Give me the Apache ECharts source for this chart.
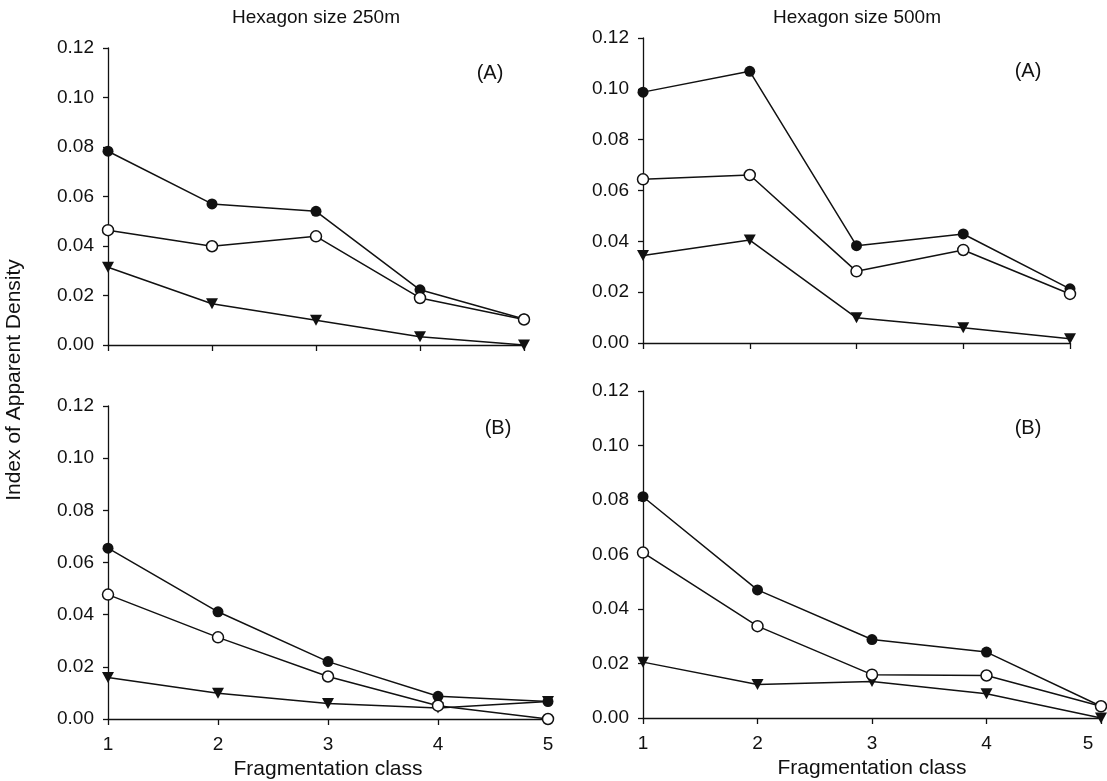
<!DOCTYPE html>
<html>
<head>
<meta charset="utf-8">
<title>Index of Apparent Density</title>
<script src="https://cdn.jsdelivr.net/npm/echarts@6/dist/echarts.min.js"></script>
<style>
  html, body { margin: 0; padding: 0; background: #fff; }
  #chart { width: 1107px; height: 781px; }
</style>
</head>
<body>
<div id="chart"></div>
<script>
// fragmentation classes (x axis)
var classes = [1, 2, 3, 4, 5];
var yTicks = [0, 0.02, 0.04, 0.06, 0.08, 0.10, 0.12];

// hexagon 250m, panel (A)
var a250Filled = [0.0783, 0.0570, 0.0540, 0.0223, 0.0105];
var a250Open = [0.0464, 0.0399, 0.0439, 0.0190, 0.0103];
var a250Tri = [0.0314, 0.0167, 0.0100, 0.0033, 0.0000];

// hexagon 500m, panel (A)
var a500Filled = [0.0987, 0.1069, 0.0383, 0.0429, 0.0213];
var a500Open = [0.0644, 0.0661, 0.0282, 0.0366, 0.0193];
var a500Tri = [0.0344, 0.0405, 0.0099, 0.0060, 0.0017];

// hexagon 250m, panel (B)
var b250Filled = [0.0655, 0.0411, 0.0220, 0.0087, 0.0067];
var b250Open = [0.0477, 0.0313, 0.0163, 0.0051, 0.0000];
var b250Tri = [0.0159, 0.0099, 0.0059, 0.0042, 0.0067];

// hexagon 500m, panel (B)
var b500Filled = [0.0812, 0.0470, 0.0288, 0.0242, 0.0043];
var b500Open = [0.0607, 0.0337, 0.0159, 0.0156, 0.0043];
var b500Tri = [0.0205, 0.0123, 0.0134, 0.0089, 0.0000];

var FONT = "'Liberation Sans', Arial, sans-serif";
var INK = "#111";

var chart = echarts.init(document.getElementById("chart"));

// panel boxes: left, top, width, height
var panels = [
  { box: [108, 48, 416, 297], showX: false, data: [a250Filled, a250Open, a250Tri] },
  { box: [643, 38, 427, 305], showX: false, data: [a500Filled, a500Open, a500Tri] },
  { box: [108, 406, 440, 314], showX: true, data: [b250Filled, b250Open, b250Tri] },
  { box: [643, 391, 458, 327], showX: true, shiftLast: true, data: [b500Filled, b500Open, b500Tri] },
];

function pairs(values) {
  return classes.map(function (c, i) {
    return [c, values[i]];
  });
}

var grids = [], xAxes = [], yAxes = [], series = [];

panels.forEach(function (p, i) {
  grids.push({ left: p.box[0], top: p.box[1], width: p.box[2], height: p.box[3] });
  xAxes.push({
    type: "value",
    gridIndex: i,
    min: 1,
    max: 5,
    interval: 1,
    axisLine: { lineStyle: { color: INK, width: 1.3 } },
    axisTick: { show: true, length: 6, lineStyle: { color: INK, width: 1.3 } },
    axisLabel: {
      show: p.showX,
      color: INK,
      fontFamily: FONT,
      fontSize: 19,
      margin: 16,
      // the "5" under the right panel sits a bit left of its tick in the original
      formatter: function (v) {
        return p.shiftLast && v === 5 ? "{last|5}" : String(v);
      },
      rich: { last: { color: INK, fontFamily: FONT, fontSize: 19, padding: [0, 26, 0, 0] } },
    },
    splitLine: { show: false },
    name: p.showX ? "Fragmentation class" : "",
    nameLocation: "middle",
    nameGap: 40,
    nameTextStyle: { color: INK, fontFamily: FONT, fontSize: 21 },
  });
  yAxes.push({
    type: "value",
    gridIndex: i,
    min: 0,
    max: 0.12,
    interval: 0.02,
    axisLine: { show: true, lineStyle: { color: INK, width: 1.3 } },
    axisTick: { show: true, length: 5, lineStyle: { color: INK, width: 1.3 } },
    axisLabel: {
      color: INK,
      fontFamily: FONT,
      fontSize: 19,
      margin: 14,
      formatter: function (v) { return v.toFixed(2); },
    },
    splitLine: { show: false },
  });

  var lineStyle = { color: INK, width: 1.5 };
  // triangles first so circles sit on top
  series.push({
    type: "line",
    xAxisIndex: i,
    yAxisIndex: i,
    data: pairs(p.data[2]),
    symbol: "triangle",
    symbolRotate: 180,
    symbolSize: [12, 11],
    itemStyle: { color: INK },
    lineStyle: lineStyle,
    z: 2,
  });
  series.push({
    type: "line",
    xAxisIndex: i,
    yAxisIndex: i,
    data: pairs(p.data[0]),
    symbol: "circle",
    symbolSize: 11,
    itemStyle: { color: INK },
    lineStyle: lineStyle,
    z: 3,
  });
  series.push({
    type: "line",
    xAxisIndex: i,
    yAxisIndex: i,
    data: pairs(p.data[1]),
    symbol: "circle",
    symbolSize: 11,
    itemStyle: { color: "#fff", borderColor: INK, borderWidth: 1.5 },
    lineStyle: lineStyle,
    z: 4,
  });
});

var textStyle = { fill: INK, font: "20px " + FONT, textAlign: "center", textVerticalAlign: "middle" };

chart.setOption({
  backgroundColor: "#fff",
  animation: false,
  grid: grids,
  xAxis: xAxes,
  yAxis: yAxes,
  series: series,
  graphic: [
    { type: "text", x: 316, y: 18, style: Object.assign({ text: "Hexagon size 250m" }, textStyle, { font: "19px " + FONT }) },
    { type: "text", x: 857, y: 18, style: Object.assign({ text: "Hexagon size 500m" }, textStyle, { font: "19px " + FONT }) },
    { type: "text", x: 490, y: 73, style: Object.assign({ text: "(A)" }, textStyle) },
    { type: "text", x: 1028, y: 71, style: Object.assign({ text: "(A)" }, textStyle) },
    { type: "text", x: 498, y: 428, style: Object.assign({ text: "(B)" }, textStyle) },
    { type: "text", x: 1028, y: 428, style: Object.assign({ text: "(B)" }, textStyle) },
    {
      type: "text",
      x: 14,
      y: 380,
      rotation: Math.PI / 2,
      style: Object.assign({ text: "Index of Apparent Density" }, textStyle, { font: "21px " + FONT }),
    },
  ],
});
</script>
</body>
</html>
